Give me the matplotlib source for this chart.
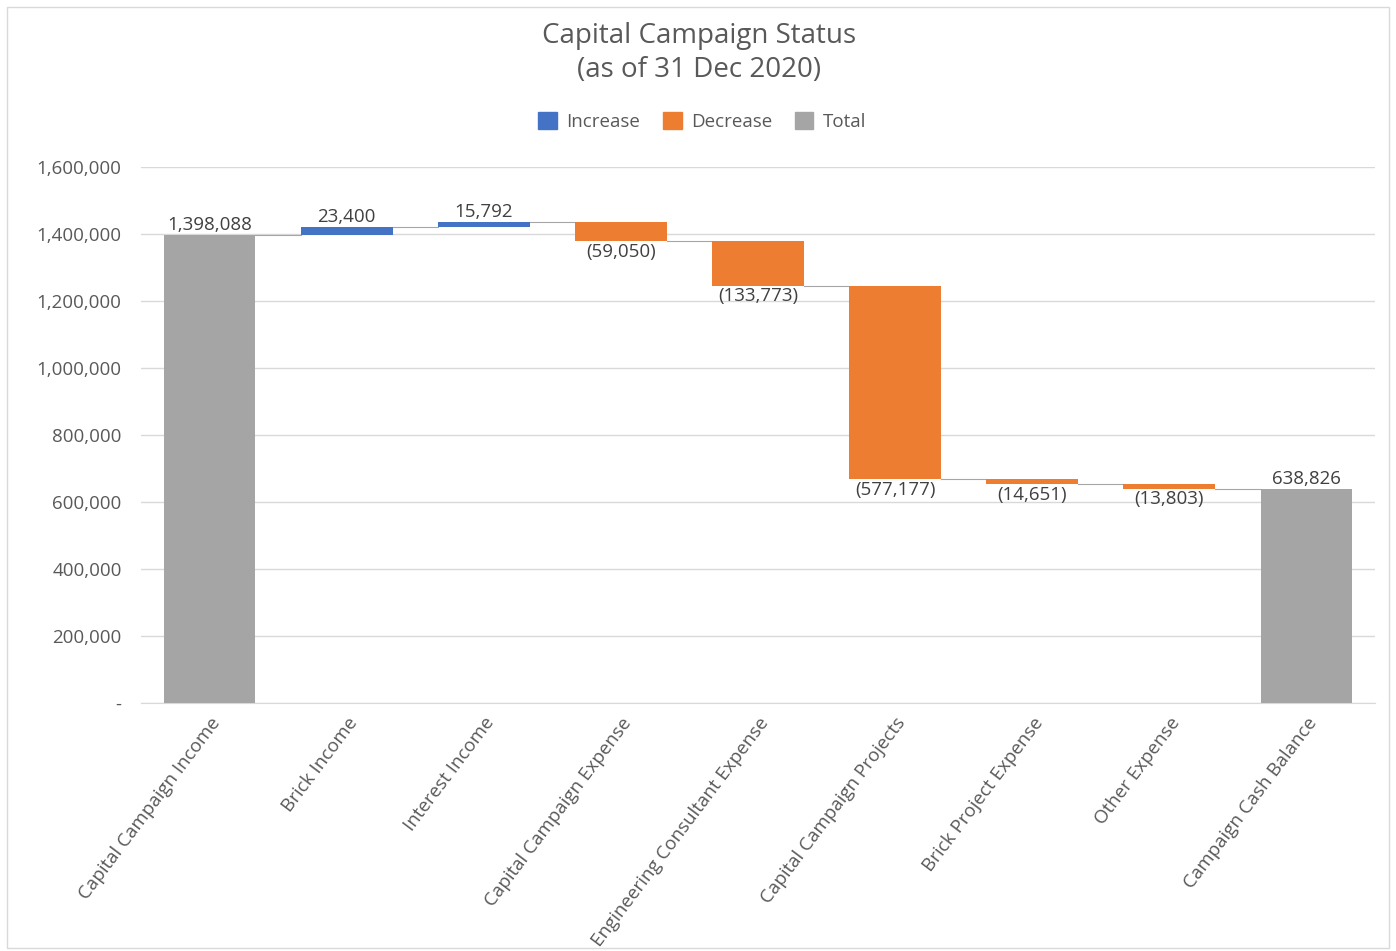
import matplotlib.pyplot as plt
from matplotlib.patches import Patch, Rectangle
from matplotlib.ticker import FuncFormatter

categories = ["Capital Campaign Income", "Brick Income", "Interest Income",
              "Capital Campaign Expense", "Engineering Consultant Expense",
              "Capital Campaign Projects", "Brick Project Expense",
              "Other Expense", "Campaign Cash Balance"]
values = [1398088, 23400, 15792, -59050, -133773, -577177, -14651, -13803, 638826]
is_total = [True, False, False, False, False, False, False, False, True]

BLUE = "#4472C4"
ORANGE = "#ED7D31"
GRAY = "#A5A5A5"
TEXT = "#595959"

plt.rcParams['font.family'] = ['Open Sans', 'DejaVu Sans']

fig = plt.figure(figsize=(13.96, 9.51), dpi=100)
fig.patches.append(Rectangle((0.005, 0.003), 0.99, 0.99, transform=fig.transFigure,
                             fill=False, edgecolor="#D9D9D9", linewidth=1))
ax = fig.add_axes([0.101, 0.2608, 0.884, 0.5636])

width = 0.67
running = 0
tops = []
for i, (v, tot) in enumerate(zip(values, is_total)):
    if tot:
        bottom, height, color = 0, v, GRAY
        running = v
    else:
        bottom = running if v > 0 else running + v
        height = abs(v)
        color = BLUE if v > 0 else ORANGE
        running += v
    ax.bar(i, height, bottom=bottom, width=width, color=color, zorder=3)
    tops.append(running)
    if v > 0:
        ax.text(i, bottom + height + 2000, f"{v:,}", ha="center", va="bottom",
                fontsize=13.5, color="#404040")
    else:
        ax.text(i, bottom - 4000, f"({-v:,})", ha="center", va="top",
                fontsize=13.5, color="#404040")

# connector lines between bars
for i in range(len(values) - 1):
    ax.plot([i + width / 2, i + 1 - width / 2], [tops[i], tops[i]],
            color="#A6A6A6", linewidth=0.8, zorder=2)

ax.set_ylim(0, 1600000)
ax.set_xlim(-0.5, len(values) - 0.5)
ax.set_yticks(range(0, 1600001, 200000))
ax.yaxis.set_major_formatter(FuncFormatter(lambda y, p: "-" if y == 0 else f"{int(y):,}"))
ax.set_xticks(range(len(values)))
ax.set_xticklabels(categories, rotation=53, ha="right", rotation_mode="anchor",
                   fontsize=13.5, color=TEXT)
ax.tick_params(axis="y", labelsize=13.5, colors=TEXT, length=0, pad=14)
ax.tick_params(axis="x", length=0, pad=8)
ax.grid(axis="y", color="#D9D9D9", linewidth=1, zorder=0)
for s in ["top", "right", "left"]:
    ax.spines[s].set_visible(False)
ax.spines["bottom"].set_color("#D9D9D9")

fig.text(0.501, 0.962, "Capital Campaign Status", ha="center", va="center",
         fontsize=20, color=TEXT)
fig.text(0.501, 0.926, "(as of 31 Dec 2020)", ha="center", va="center",
         fontsize=20, color=TEXT)

handles = [Patch(color=BLUE, label="Increase"), Patch(color=ORANGE, label="Decrease"),
           Patch(color=GRAY, label="Total")]
fig.legend(handles=handles, loc="center", bbox_to_anchor=(0.503, 0.872), ncol=3,
           frameon=False, fontsize=13.5, labelcolor=TEXT, handlelength=1.0,
           handleheight=1.0, columnspacing=1.2, handletextpad=0.5)

fig.savefig("out.png", dpi=100)
